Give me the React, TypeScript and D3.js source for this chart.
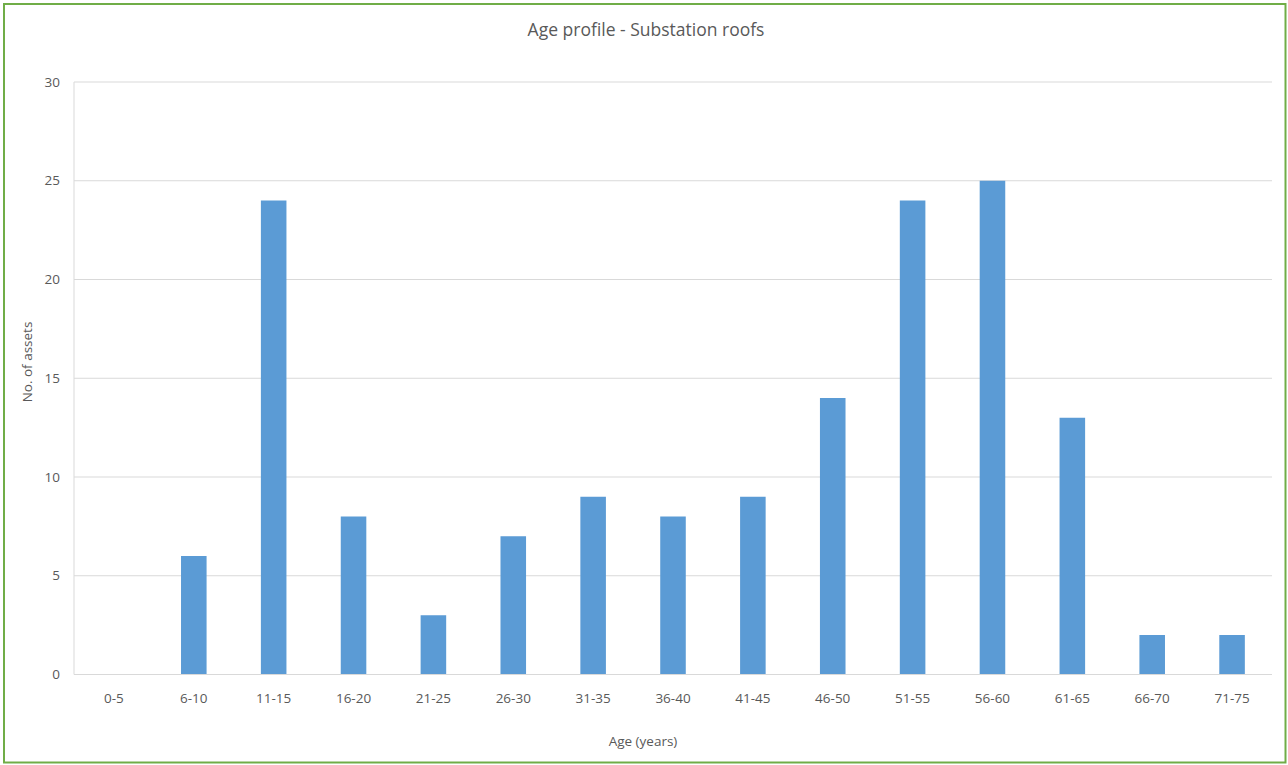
import React from "react";
import * as d3 from "d3";

const categories = ["0-5", "6-10", "11-15", "16-20", "21-25", "26-30", "31-35", "36-40", "41-45", "46-50", "51-55", "56-60", "61-65", "66-70", "71-75"];
const assetCounts = [0, 6, 24, 8, 3, 7, 9, 8, 9, 14, 24, 25, 13, 2, 2];
const yTicks = [0, 5, 10, 15, 20, 25, 30];

const W = 1288;
const H = 765;
const plot = { left: 74, right: 1272, top: 82, bottom: 674.5 };
const font = "'Open Sans', 'Noto Sans', sans-serif";
const textColor = "#595959";
const labelSize = 13.5;

export default function App() {
  const x = d3
    .scaleBand<string>()
    .domain(categories)
    .range([plot.left, plot.right])
    .paddingInner(0.68)
    .paddingOuter(0.34);
  const y = d3.scaleLinear().domain([0, 30]).range([plot.bottom, plot.top]);

  return (
    <div style={{ position: "absolute", left: 0, top: 0 }}>
      <svg width={W} height={H} style={{ display: "block", fontFamily: font }}>
        <rect x={0} y={0} width={W} height={H} fill="#ffffff" />
        <rect x={4} y={4} width={1281.5} height={758.5} fill="none" stroke="#70ad47" strokeWidth={2} />

        <text x={646} y={36} textAnchor="middle" fontSize={17.5} fill={textColor}>
          Age profile - Substation roofs
        </text>

        {yTicks.map((t) => (
          <g key={t}>
            {t > 0 && (
              <line x1={plot.left} x2={plot.right} y1={y(t)} y2={y(t)} stroke="#d9d9d9" strokeWidth={1} />
            )}
            <text x={60} y={y(t)} dy="0.35em" textAnchor="end" fontSize={labelSize} fill={textColor}>
              {t}
            </text>
          </g>
        ))}
        <line x1={plot.left} x2={plot.left} y1={plot.top} y2={plot.bottom} stroke="#d9d9d9" strokeWidth={1} />

        {categories.map((c, i) => (
          <rect
            key={c}
            x={x(c)}
            y={y(assetCounts[i])}
            width={x.bandwidth()}
            height={plot.bottom - y(assetCounts[i])}
            fill="#5b9bd5"
          />
        ))}

        <line x1={plot.left} x2={plot.right} y1={plot.bottom} y2={plot.bottom} stroke="#d9d9d9" strokeWidth={1} />

        {categories.map((c) => (
          <text
            key={c}
            x={(x(c) as number) + x.bandwidth() / 2}
            y={702.5}
            textAnchor="middle"
            fontSize={labelSize}
            fill={textColor}
          >
            {c}
          </text>
        ))}

        <text x={643} y={746} textAnchor="middle" fontSize={labelSize} fill={textColor}>
          Age (years)
        </text>
        <text
          transform={`translate(32, 362) rotate(-90)`}
          textAnchor="middle"
          fontSize={labelSize}
          fill={textColor}
        >
          No. of assets
        </text>
      </svg>
    </div>
  );
}
